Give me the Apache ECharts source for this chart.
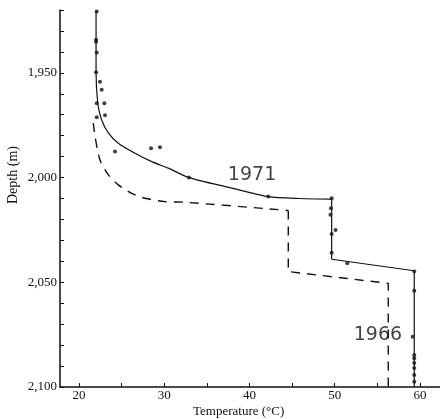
<!DOCTYPE html>
<html>
<head>
<meta charset="utf-8">
<script src="https://cdn.jsdelivr.net/npm/echarts@6/dist/echarts.min.js"></script>
<style>
html,body{margin:0;padding:0;background:#fff;}
#chart{width:440px;height:419px;}
</style>
</head>
<body>
<div id="chart"></div>
<script>
// 1971 profile: smooth upper curve (temperature °C, depth m)
const curve1971Temp  = [22.0, 22.0, 22.2, 22.66, 23.44, 24.6, 26.57, 28.53, 30.47, 32.9, 37.6, 42.2, 45.9, 49.64];
const curve1971Depth = [1920.4, 1949.5, 1964.5, 1972.5, 1978.7, 1983.6, 1988.4, 1992.4, 1995.5, 2000, 2004.7, 2009.1, 2010.0, 2010.3];
// 1971 profile: straight step segments
const step1971Temp  = [49.64, 49.64, 59.33, 59.33];
const step1971Depth = [2010.3, 2039, 2044.5, 2100];

// 1966 profile: smooth upper curve
const curve1966Temp  = [21.68, 21.88, 22.46, 23.44, 24.61, 26.18, 27.74, 30.09, 32.43, 42.4, 44.55];
const curve1966Depth = [1974, 1980.4, 1991.6, 1998.7, 2003.5, 2007.5, 2009.9, 2011.5, 2011.8, 2015, 2015.7];
// 1966 profile: straight step segments
const step1966Temp  = [44.55, 44.55, 56.28, 56.28];
const step1966Depth = [2015.7, 2044.9, 2050.5, 2100];

// 1971 measured points
const pointTemp  = [22.08, 22.0, 22.0, 22.08, 22.0, 22.46, 22.66, 22.08, 22.97, 22.08, 23.05, 24.22, 28.45, 29.5, 32.9, 42.2, 49.64, 49.56, 49.5, 50.1, 49.64, 49.64, 51.47, 59.33, 59.33, 59.14, 59.33, 59.33, 59.33, 59.33, 59.33, 59.33];
const pointDepth = [1920.7, 1934.2, 1935.2, 1940.3, 1949.7, 1954.2, 1958.1, 1964.5, 1964.5, 1971.2, 1970.3, 1987.6, 1986.0, 1985.5, 2000.0, 2009.1, 2009.9, 2014.6, 2017.8, 2025.0, 2026.9, 2035.9, 2040.9, 2044.9, 2054.0, 2076.0, 2084.7, 2086.3, 2088.6, 2090.9, 2094.3, 2097.5];

// curve labels
const curveLabels = ['1971', '1966'];
const curveLabelTemp = [40.3, 55.07];
const curveLabelDepth = [1998.7, 2075.2];

// axis ticks
const xTickValues = [20, 25, 30, 35, 40, 45, 50, 55, 60];
const xLabelValues = [20, 30, 40, 50, 60];
const yLabelValues = [1950, 2000, 2050, 2100];

const xTitle = 'Temperature (°C)';
const yTitle = 'Depth (m)';

const zip = (a, b) => a.map((v, i) => [v, b[i]]);

const chart = echarts.init(document.getElementById('chart'), null, {renderer: 'canvas'});
const serif = '"Liberation Serif", "DejaVu Serif", serif';
const solidStyle = {color: '#111', width: 1.2};
const dashStyle = {color: '#111', width: 1.4, type: [9, 7]};

chart.setOption({
  backgroundColor: '#fff',
  animation: false,
  grid: {left: 60, top: 10, right: 0, bottom: 32, containLabel: false},
  xAxis: {
    type: 'value', min: 17.77, max: 62.35,
    axisLine: {show: true, lineStyle: {color: '#111', width: 1.5}},
    axisTick: {show: true, inside: true, length: 4, customValues: xTickValues, lineStyle: {color: '#111', width: 1}},
    axisLabel: {show: true, customValues: xLabelValues, margin: 2, color: '#111', fontFamily: serif, fontSize: 13},
    splitLine: {show: false}
  },
  yAxis: {
    type: 'value', inverse: true, min: 1920, max: 2100, interval: 10,
    axisLine: {show: true, onZero: false, lineStyle: {color: '#111', width: 1.5}},
    axisTick: {show: true, inside: true, length: 4, lineStyle: {color: '#111', width: 1}},
    axisLabel: {
      show: true, margin: 3, color: '#111', fontFamily: serif, fontSize: 13,
      formatter: v => yLabelValues.indexOf(v) >= 0 ? (Math.floor(v / 1000) + ',' + String(v % 1000).padStart(3, '0')) : ''
    },
    splitLine: {show: false}
  },
  graphic: [
    {type: 'text', left: 193, top: 405, style: {text: xTitle, fill: '#111', font: '13px ' + serif}},
    {type: 'text', x: 6, y: 204, rotation: Math.PI / 2, style: {text: yTitle, fill: '#111', font: '14px ' + serif}}
  ],
  series: [
    {type: 'line', data: zip(curve1971Temp, curve1971Depth), smooth: 0.25, symbol: 'none', lineStyle: solidStyle, z: 3},
    {type: 'line', data: zip(step1971Temp, step1971Depth), smooth: false, symbol: 'none', lineStyle: solidStyle, z: 3},
    {type: 'line', data: zip(curve1966Temp, curve1966Depth), smooth: 0.25, symbol: 'none', lineStyle: dashStyle, z: 3},
    {type: 'line', data: zip(step1966Temp, step1966Depth), smooth: false, symbol: 'none', lineStyle: dashStyle, z: 3},
    {
      type: 'scatter', data: zip(pointTemp, pointDepth), symbolSize: 4,
      itemStyle: {color: '#111'}, z: 4
    },
    {
      type: 'scatter', symbolSize: 1, itemStyle: {color: 'rgba(0,0,0,0)'},
      data: curveLabels.map((t, i) => ({value: [curveLabelTemp[i], curveLabelDepth[i]], name: t})),
      label: {show: true, position: 'inside', formatter: p => p.name, color: '#111',
        fontFamily: '"DejaVu Sans", sans-serif', fontSize: 19},
      z: 5
    }
  ]
});
</script>
</body>
</html>
